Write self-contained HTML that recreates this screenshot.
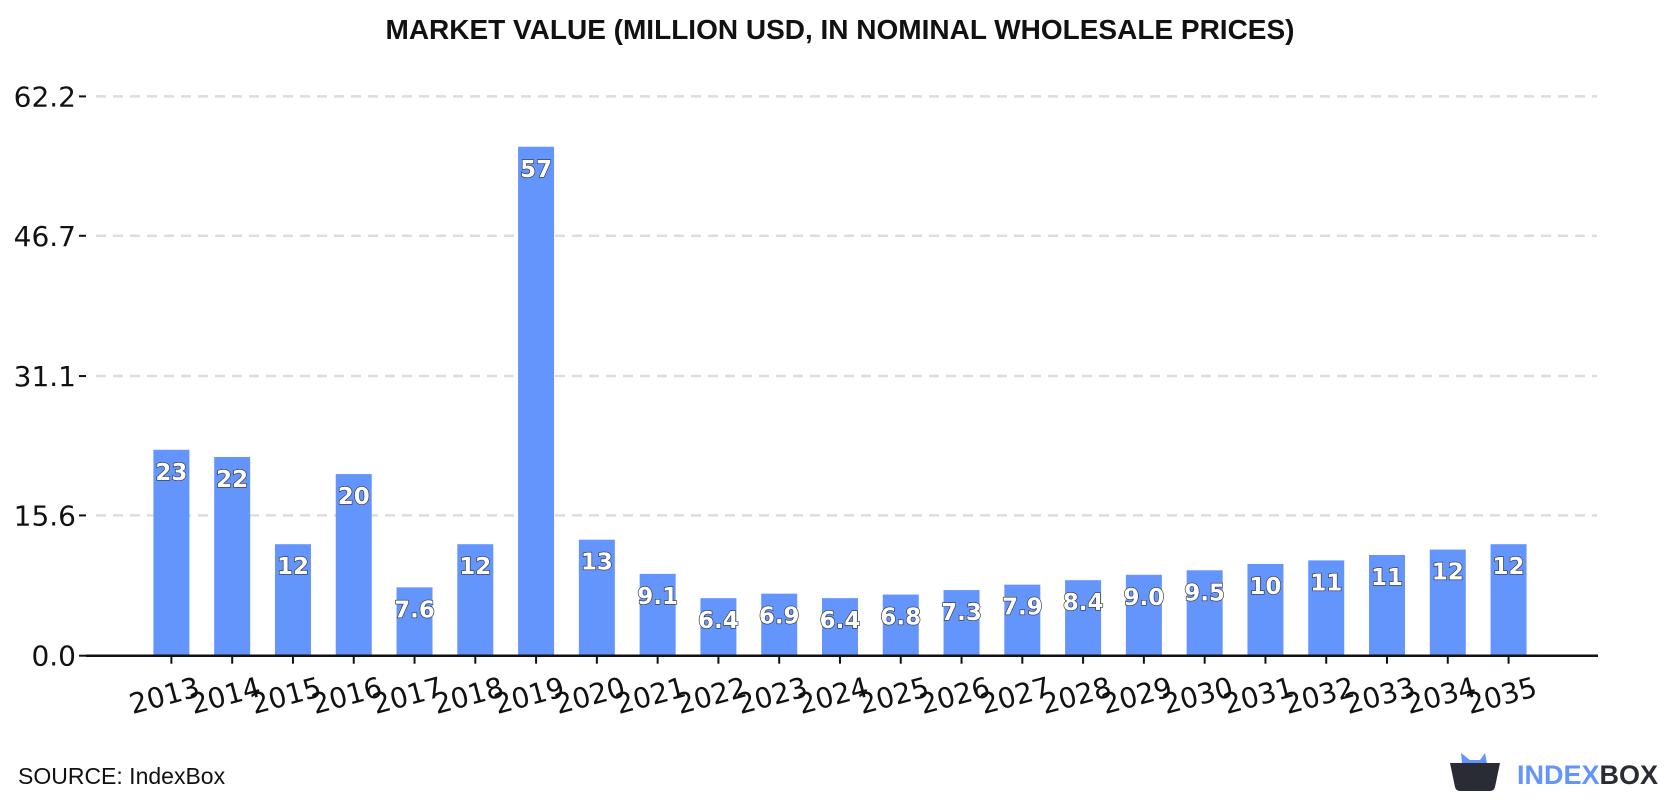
<!DOCTYPE html>
<html><head><meta charset="utf-8"><style>
body{margin:0;width:1680px;height:800px;background:#fff;overflow:hidden;font-family:"DejaVu Sans","Liberation Sans",sans-serif}
svg{display:block}
</style></head><body>
<svg id="chart" width="1680" height="800">
<text x="840" y="39" text-anchor="middle" font-family="Liberation Sans, sans-serif" font-weight="bold" font-size="28" fill="#111">MARKET VALUE (MILLION USD, IN NOMINAL WHOLESALE PRICES)</text>
<g id="grid"></g><g id="bars"></g><g id="xaxis"></g>
<text x="18" y="784" font-family="Liberation Sans, sans-serif" font-size="23" fill="#111">SOURCE: IndexBox</text>
<g>
<path d="M1450 763 L1500 763 L1495 787 Q1494 791 1490 791 L1460 791 Q1456 791 1455 787 Z" fill="#2a2c35"/>
<path d="M1462 763 L1461 753 L1470 760 L1480 760 L1485 753 L1487 763 Z" fill="#6495fd"/>
<text x="1517" y="784" font-family="Liberation Sans, sans-serif" font-weight="bold" font-size="27" fill="#6495fd">INDEX<tspan fill="#2a2c35">BOX</tspan></text>
</g>
</svg>
<script>
const years=["2013","2014","2015","2016","2017","2018","2019","2020","2021","2022","2023","2024","2025","2026","2027","2028","2029","2030","2031","2032","2033","2034","2035"];
const values=[22.9,22.1,12.4,20.2,7.6,12.4,56.6,12.9,9.1,6.4,6.9,6.4,6.8,7.3,7.9,8.4,9.0,9.5,10.2,10.6,11.2,11.8,12.4];
const labels=["23","22","12","20","7.6","12","57","13","9.1","6.4","6.9","6.4","6.8","7.3","7.9","8.4","9.0","9.5","10","11","11","12","12"];
const ticks=[0,15.6,31.1,46.7,62.2];
const tickLabels=["0.0","15.6","31.1","46.7","62.2"];
const NS="http://www.w3.org/2000/svg";
const y0=655.7,yTop=96.4,vMax=62.2;
const yScale=v=>y0-(v/vMax)*(y0-yTop);
const xScale=i=>171.4+i*60.78;
const bw=36;
function mk(tag,attrs,parent){const e=document.createElementNS(NS,tag);for(const k in attrs)e.setAttribute(k,attrs[k]);parent.appendChild(e);return e;}
const grid=document.getElementById('grid'),bars=document.getElementById('bars'),xa=document.getElementById('xaxis');
ticks.forEach((t,i)=>{
  const y=yScale(t);
  if(i>0){const l=mk('line',{x1:96,x2:1597,y1:y,y2:y,stroke:'#dddddd','stroke-width':2.5,'stroke-dasharray':'10,7'},grid);
  
  }
  mk('line',{x1:79,x2:86,y1:y,y2:y,stroke:'#111','stroke-width':2},grid);
  const tx=mk('text',{x:76,y:y+10,'text-anchor':'end','font-size':28,fill:'#111'},grid);
  tx.textContent=tickLabels[i];
  
  
});
values.forEach((v,i)=>{
  const cx=xScale(i),yt=yScale(v);
  const r=mk('rect',{x:cx-bw/2,y:yt,width:bw,height:y0-yt,fill:'#6495fd'},bars);
  
  
  const t=mk('text',{x:cx,y:yt+30,'text-anchor':'middle','font-size':23,'font-weight':'bold',fill:'#fff',stroke:'#333','stroke-width':1.3,'paint-order':'stroke'},bars);
  t.textContent=labels[i];
  
  
  mk('line',{x1:cx,x2:cx,y1:y0,y2:y0+8,stroke:'#111','stroke-width':2},xa);
  const xl=mk('text',{x:cx+30,y:y0+40,'text-anchor':'end','font-size':28,fill:'#111',transform:`rotate(-15 ${cx+30} ${y0+40})`},xa);
  xl.textContent=years[i];
  
  
});
const ax=mk('line',{x1:86,x2:1598,y1:y0,y2:y0,stroke:'#111','stroke-width':2.5},xa);


</script>
</body></html>
